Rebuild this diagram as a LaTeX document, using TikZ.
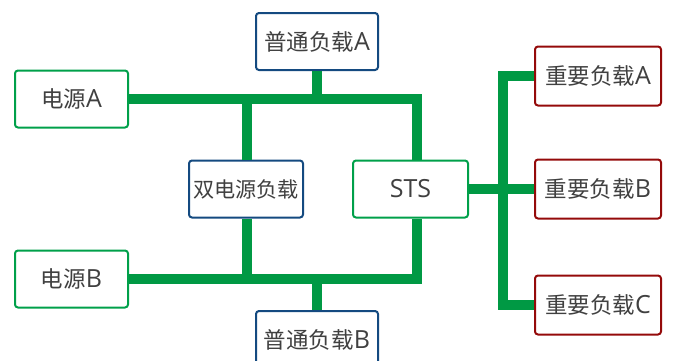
\documentclass[tikz,border=0pt]{standalone}
\usepackage{fontspec}
\setmainfont{Open Sans}
\newfontfamily\cjk{Noto Sans CJK SC}[Scale=0.9]
\definecolor{busgreen}{HTML}{009944}
\definecolor{srcgreen}{HTML}{00A04A}
\definecolor{loadblue}{HTML}{144A80}
\definecolor{keyred}{HTML}{940A0A}
\definecolor{txtgray}{HTML}{404040}
\tikzset{box/.style={draw,fill=white,rounded corners=3pt,line width=2pt,text=txtgray,
        font=\fontsize{25}{29}\selectfont,inner sep=0pt,minimum height=57pt},
    src/.style={box,draw=srcgreen,minimum width=113pt},
    load/.style={box,draw=loadblue,minimum width=122pt},
    key/.style={box,draw=keyred,minimum width=126pt,minimum height=59pt},
    bus/.style={draw=busgreen,line width=10pt}}

\begin{document}
\begin{tikzpicture}[x=1pt,y=-1pt]
    \useasboundingbox (0,0) rectangle (675,360);
    \node[src] (srcA) at (71.5,99) {{\cjk 电源}A};
    \node[src] (srcB) at (71.5,279) {{\cjk 电源}B};
    \node[load] (loadA) at (317,41.5) {{\cjk 普通负载}A};
    \node[load] (loadB) at (317,339.5) {{\cjk 普通负载}B};
    \node[load,minimum width=114pt,font=\fontsize{23.5}{28}\selectfont] (dual) at (246,189) {\cjk 双电源负载};
    \node[src,minimum width=115pt] (sts) at (410.5,189) {STS};
    \node[key] (keyA) at (598,76) {{\cjk 重要负载}A};
    \node[key] (keyB) at (598,189) {{\cjk 重要负载}B};
    \node[key] (keyC) at (598,305) {{\cjk 重要负载}C};
    \coordinate (tap) at (503,189);
        \draw[bus] (srcA.east) -| ([xshift=6.5pt]sts.north);
        \draw[bus] (srcB.east) -| ([xshift=6.5pt]sts.south);
        \draw[bus] (loadA.south) -- (loadA.south |- srcA);
        \draw[bus] (loadB.north) -- (loadB.north |- srcB);
        \draw[bus] ([xshift=1pt]dual.north) -- ([xshift=1pt]dual.north |- srcA);
        \draw[bus] ([xshift=1pt]dual.south) -- ([xshift=1pt]dual.south |- srcB);
        \draw[bus] (sts.east) -- (keyB.west);
        \draw[bus] (keyA.west) -| (tap) |- (keyC.west);
    \end{tikzpicture}
\end{document}
